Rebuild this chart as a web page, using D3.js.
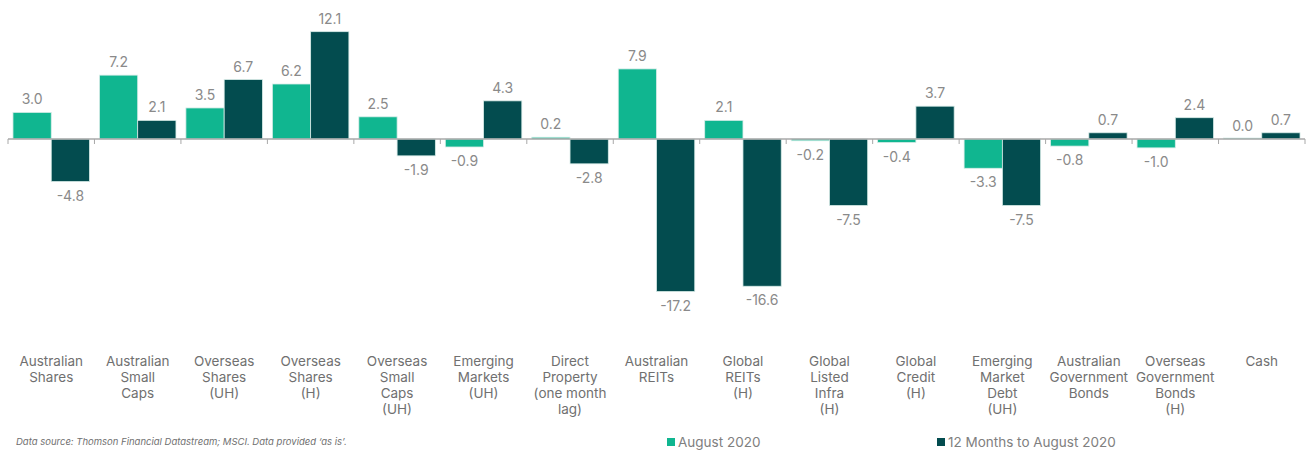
<!DOCTYPE html>
<html>
<head>
<meta charset="utf-8">
<script src="https://cdn.jsdelivr.net/npm/d3@7"></script>
<style>
  body { margin: 0; background: #fff; }
  svg { display: block; font-family: Inter, "Noto Sans", sans-serif; }
</style>
</head>
<body>
<div id="chart"></div>
<script>
const width = 1309,
  height = 450;

const categories = [
  ["Australian", "Shares"],
  ["Australian", "Small", "Caps"],
  ["Overseas", "Shares", "(UH)"],
  ["Overseas", "Shares", "(H)"],
  ["Overseas", "Small", "Caps", "(UH)"],
  ["Emerging", "Markets", "(UH)"],
  ["Direct", "Property", "(one month", "lag)"],
  ["Australian", "REITs"],
  ["Global", "REITs", "(H)"],
  ["Global", "Listed", "Infra", "(H)"],
  ["Global", "Credit", "(H)"],
  ["Emerging", "Market", "Debt", "(UH)"],
  ["Australian", "Government", "Bonds"],
  ["Overseas", "Government", "Bonds", "(H)"],
  ["Cash"]
];
const august2020 = [3.0, 7.2, 3.5, 6.2, 2.5, -0.9, 0.2, 7.9, 2.1, -0.2, -0.4, -3.3, -0.8, -1.0, 0.0];
const twelveMonths = [-4.8, 2.1, 6.7, 12.1, -1.9, 4.3, -2.8, -17.2, -16.6, -7.5, 3.7, -7.5, 0.7, 2.4, 0.7];
const seriesNames = ["August 2020", "12 Months to August 2020"];
const colors = ["#10b690", "#034c4f"];

const x = d3.scaleBand()
  .domain(d3.range(categories.length))
  .range([8, 1305]);

const xs = d3.scaleBand()
  .domain([0, 1])
  .range([0, x.bandwidth()])
  .paddingOuter(0.13);

const y = d3.scaleLinear()
  .domain([-20, 14])
  .range([139 + 20 * 8.87, 139 - 14 * 8.87]);

const svg = d3.select("#chart").append("svg")
  .attr("width", width)
  .attr("height", height);

const series = [august2020, twelveMonths];

const groups = svg.selectAll("g.cat")
  .data(categories)
  .join("g")
  .attr("class", "cat")
  .attr("transform", (d, i) => `translate(${x(i)},0)`);

groups.selectAll("rect")
  .data((d, i) => series.map((s, k) => ({ k, v: s[i] })))
  .join("rect")
  .attr("x", d => xs(d.k))
  .attr("width", xs.bandwidth())
  .attr("y", d => y(Math.max(0, d.v)) - (d.v === 0 ? 1 : 0))
  .attr("height", d => Math.max(1, Math.abs(y(d.v) - y(0))))
  .attr("fill", d => colors[d.k])
  .attr("stroke", "#d8ece8")
  .attr("stroke-width", 0.8);

groups.selectAll("text.val")
  .data((d, i) => series.map((s, k) => ({ k, v: s[i] })))
  .join("text")
  .attr("class", "val")
  .attr("x", d => xs(d.k) + xs.bandwidth() / 2)
  .attr("y", d => d.v >= 0 ? y(d.v) - 8 : y(d.v) + 19)
  .attr("text-anchor", "middle")
  .attr("font-size", 14)
  .attr("fill", "#8a8a8a")
  .text(d => (d.v < 0 ? "-" : "") + Math.abs(d.v).toFixed(1));

// zero axis with ticks at band edges
svg.append("line")
  .attr("x1", x.range()[0]).attr("x2", x.range()[1])
  .attr("y1", y(0)).attr("y2", y(0))
  .attr("stroke", "#a8a8a8").attr("stroke-width", 1.5);

svg.selectAll("line.tick")
  .data(d3.range(categories.length + 1))
  .join("line")
  .attr("class", "tick")
  .attr("x1", i => x.range()[0] + i * x.step())
  .attr("x2", i => x.range()[0] + i * x.step())
  .attr("y1", y(0)).attr("y2", y(0) + 5)
  .attr("stroke", "#a8a8a8").attr("stroke-width", 1);

// category labels
groups.append("text")
  .attr("text-anchor", "middle")
  .attr("font-size", 13.5)
  .attr("fill", "#707070")
  .selectAll("tspan")
  .data(d => d)
  .join("tspan")
  .attr("x", x.bandwidth() / 2)
  .attr("y", (d, j) => 366 + j * 16)
  .text(d => d);

svg.append("text")
  .attr("x", 16).attr("y", 445)
  .attr("font-size", 9.5)
  .attr("font-style", "italic")
  .attr("fill", "#707070")
  .text("Data source: Thomson Financial Datastream; MSCI. Data provided \u2018as is\u2019.");

const legendX = [667, 937];
const legend = svg.selectAll("g.legend")
  .data(seriesNames)
  .join("g")
  .attr("class", "legend")
  .attr("transform", (d, i) => `translate(${legendX[i]},442)`);

legend.append("rect")
  .attr("x", 0).attr("y", -4)
  .attr("width", 8).attr("height", 8)
  .attr("fill", (d, i) => colors[i]);

legend.append("text")
  .attr("x", 11).attr("y", 5)
  .attr("font-size", 13.5)
  .attr("fill", "#808080")
  .text(d => d);
</script>
</body>
</html>
